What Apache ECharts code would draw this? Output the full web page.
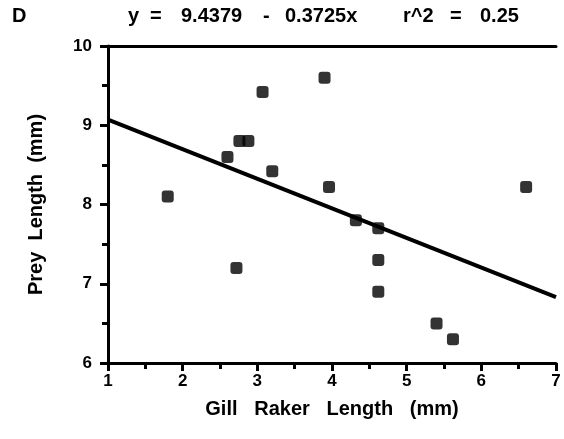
<!DOCTYPE html>
<html>
<head>
<meta charset="utf-8">
<script src="https://cdn.jsdelivr.net/npm/echarts@6/dist/echarts.min.js"></script>
<style>
html,body{margin:0;padding:0;background:#fff;}
#chart{width:564px;height:439px;}
</style>
</head>
<body>
<div id="chart"></div>
<script>
// Data
var gillRaker = [1.8, 2.6, 2.76, 2.88, 3.07, 3.2, 2.72, 3.9, 3.96, 6.6, 4.32, 4.62, 4.62, 4.62, 5.4, 5.62];
var preyLength = [8.1, 8.6, 8.8, 8.8, 9.42, 8.42, 7.2, 9.6, 8.22, 8.22, 7.8, 7.7, 7.3, 6.9, 6.5, 6.3];
// regression line endpoints (y = 9.4379 - 0.3725x)
var fitX = [1, 7];
var fitY = [9.07, 6.83];
var xTicks = [1, 2, 3, 4, 5, 6, 7];
var yTicks = [6, 7, 8, 9, 10];
var titleParts = ['D', 'y', '=', '9.4379', '-', '0.3725x', 'r^2', '=', '0.25'];

var FONT = '"Liberation Sans", Arial, sans-serif';
var pts = gillRaker.map(function (x, i) { return [x, preyLength[i]]; });
var fit = fitX.map(function (x, i) { return [x, fitY[i]]; });

var chart = echarts.init(document.getElementById('chart'), null, {renderer: 'canvas'});
var axisCommon = {
  axisLine: {show: true, onZero: false, lineStyle: {color: '#000', width: 3}},
  axisTick: {show: true, inside: false, length: 8, lineStyle: {color: '#000', width: 3}},
  minorTick: {show: true, splitNumber: 2, length: 6, lineStyle: {color: '#000', width: 3}},
  splitLine: {show: false},
  axisLabel: {color: '#000', fontFamily: FONT, fontWeight: 'bold', fontSize: 17},
  nameTextStyle: {color: '#000', fontFamily: FONT, fontWeight: 'bold', fontSize: 20}
};
var titleX = [12, 128, 150, 181, 263, 285, 403, 450, 480];
var graphics = titleParts.map(function (t, i) {
  return {type: 'text', left: titleX[i], top: 6, style: {text: t, font: 'bold 20px ' + FONT, fill: '#000'}};
});
chart.setOption({
  animation: false,
  backgroundColor: '#fff',
  grid: {left: 108, right: 8, top: 46, bottom: 76},
  xAxis: [
    Object.assign({}, axisCommon, {
      type: 'value', min: xTicks[0], max: xTicks[xTicks.length - 1], interval: 1,
      name: 'Gill   Raker   Length   (mm)', nameLocation: 'middle', nameGap: 36,
      axisLabel: Object.assign({}, axisCommon.axisLabel, {margin: 10})
    }),
    {
      type: 'value', position: 'top', min: 1, max: 7,
      axisLine: {show: true, onZero: false, lineStyle: {color: '#000', width: 3}},
      axisTick: {show: false}, axisLabel: {show: false}, splitLine: {show: false}
    }
  ],
  yAxis: Object.assign({}, axisCommon, {
    type: 'value', min: yTicks[0], max: yTicks[yTicks.length - 1], interval: 1,
    name: 'Prey  Length  (mm)', nameLocation: 'middle', nameGap: 62,
    axisLabel: Object.assign({}, axisCommon.axisLabel, {margin: 16})
  }),
  graphic: graphics,
  series: [
    {
      type: 'line', data: fit, showSymbol: false, symbol: 'none',
      lineStyle: {color: '#000', width: 4}, z: 2
    },
    {
      type: 'scatter', data: pts, symbol: 'roundRect', symbolSize: 12,
      itemStyle: {color: '#000'}, z: 3
    }
  ]
});
</script>
</body>
</html>
